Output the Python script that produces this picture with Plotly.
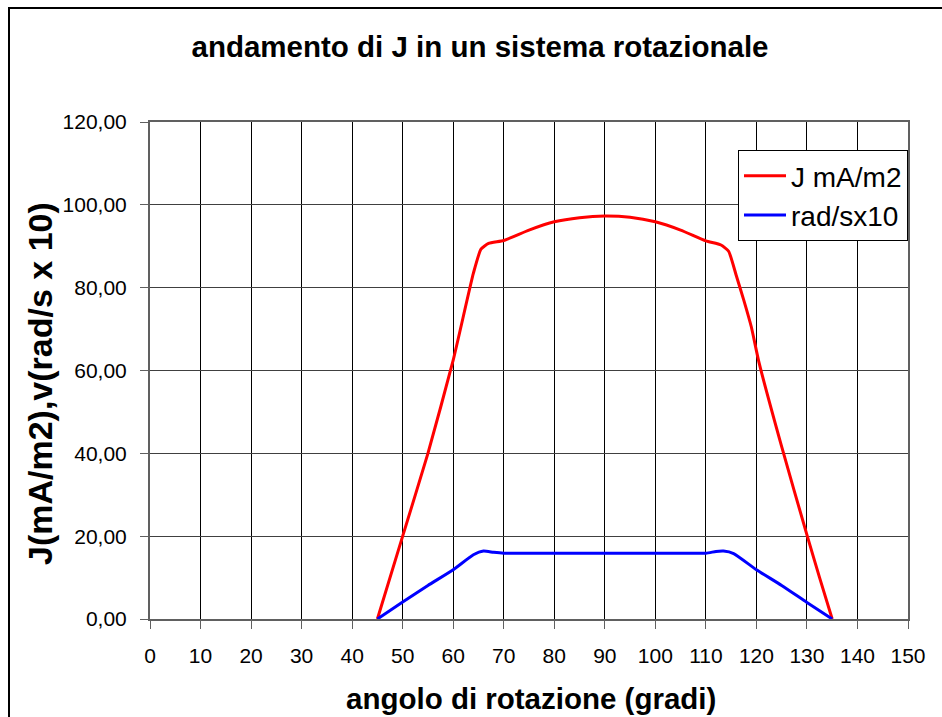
import plotly.graph_objects as go

# data
angle_j = [45, 50, 55, 60, 64, 65.5, 67, 70, 75, 80, 85, 90, 95, 100, 105, 110, 113, 114.5, 116, 117.5, 119, 120.5, 125, 130, 132.5, 135]
j_vals = [0, 20, 40, 62.5, 83.5, 89.3, 90.7, 91.4, 93.9, 95.9, 96.9, 97.3, 97.0, 95.9, 93.9, 91.3, 90.3, 88.8, 83.0, 77.0, 70.5, 62.0, 41.6, 20.3, 10.0, 0]
angle_v = [45, 50, 55, 60, 64, 66, 68, 70, 80, 90, 100, 110, 112, 113.5, 115.5, 120, 125, 130, 135]
v_vals = [0, 4.1, 8.1, 11.9, 15.5, 16.4, 16.1, 15.9, 15.9, 15.9, 15.9, 15.9, 16.3, 16.4, 15.8, 11.9, 8.1, 4.0, 0]

x_ticks = list(range(0, 151, 10))
y_ticks = [0, 20, 40, 60, 80, 100, 120]
y_ticktext = ["0,00", "20,00", "40,00", "60,00", "80,00", "100,00", "120,00"]

FONT = "Liberation Sans, Arial, sans-serif"

fig = go.Figure()
fig.add_trace(go.Scatter(x=angle_j, y=j_vals, mode="lines", name="J mA/m2", legendgroup="a",
                         line=dict(color="#FF0000", width=3, shape="spline", smoothing=0.5)))
fig.add_trace(go.Scatter(x=angle_v, y=v_vals, mode="lines", name="rad/sx10", legendgroup="b",
                         line=dict(color="#0000FF", width=3, shape="spline", smoothing=0.5)))

W, H = 942, 717
L, R, T, B = 150, 34, 122, 98
pw, ph = W - L - R, H - T - B

def px_x(p):
    return (p - L) / pw

def px_y(p):
    return (T + ph - p) / ph

fig.update_layout(
    width=W, height=H,
    margin=dict(l=L, r=R, t=T, b=B, pad=0),
    paper_bgcolor="white", plot_bgcolor="white",
    font=dict(family=FONT, size=21, color="black"),
    title=dict(text="<b>andamento di J in un sistema rotazionale</b>",
               x=480 / W, xanchor="center", y=1 - 47 / H, yanchor="middle",
               font=dict(family=FONT, size=29.5, color="black")),
    showlegend=True,
    legend=dict(x=1, xanchor="right", y=px_y(150), yanchor="top",
                bordercolor="black", borderwidth=1, bgcolor="white",
                font=dict(family=FONT, size=28, color="black"),
                traceorder="grouped", tracegroupgap=0, itemwidth=42),
    xaxis=dict(range=[0, 150], tickvals=x_ticks, ticktext=[str(t) for t in x_ticks],
               showgrid=True, gridcolor="black", gridwidth=1,
               showline=True, linecolor="#606060", linewidth=2, mirror=True,
               ticks="outside", ticklen=8, tickcolor="#606060", ticklabelstandoff=9,
               zeroline=False, tickfont=dict(size=21)),
    yaxis=dict(range=[0, 120], tickvals=y_ticks, ticktext=y_ticktext,
               showgrid=True, gridcolor="#404040", gridwidth=1,
               showline=True, linecolor="#606060", linewidth=2, mirror=True,
               ticks="outside", ticklen=8, tickcolor="#606060", ticklabelstandoff=9,
               zeroline=False, tickfont=dict(size=21)),
)

fig.add_annotation(text="<b>angolo di rotazione (gradi)</b>", xref="paper", yref="paper",
                   x=px_x(531), y=px_y(698), xanchor="center", yanchor="middle",
                   showarrow=False, font=dict(family=FONT, size=29.5, color="black"))
fig.add_annotation(text="<b>J(mA/m2),v(rad/s x 10)</b>", xref="paper", yref="paper",
                   x=px_x(40), y=px_y(384), xanchor="center", yanchor="middle", textangle=-90,
                   showarrow=False, font=dict(family=FONT, size=34, color="black"))

# outer chart frame
fig.add_shape(type="rect", xref="paper", yref="paper",
              x0=px_x(9), x1=px_x(W + 20),
              y0=px_y(H + 20), y1=px_y(8),
              line=dict(color="black", width=2), fillcolor="rgba(0,0,0,0)", layer="above")

fig.write_html("out.html")
